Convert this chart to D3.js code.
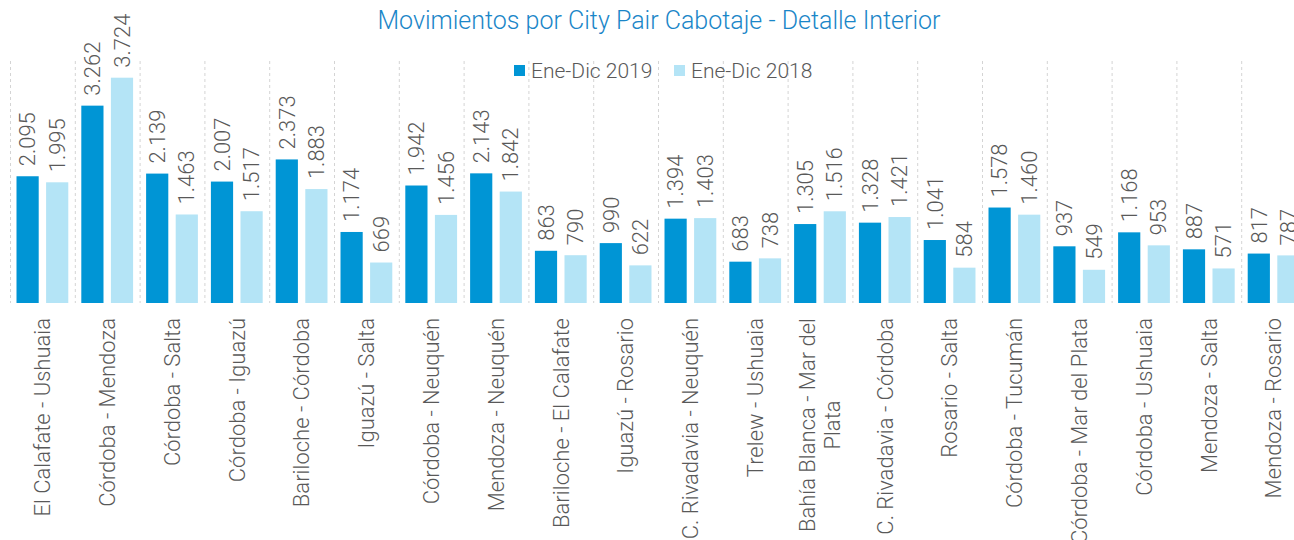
<!DOCTYPE html>
<html>
  <head>
    <meta charset="utf-8">
    <title>Movimientos por City Pair Cabotaje</title>
    <script src="https://d3js.org/d3.v7.min.js"></script>
    <style>
      body { margin: 0; background: #fff; }
      svg { font-family: Roboto, "Noto Sans", sans-serif; }
    </style>
  </head>
  <body>
    <svg id="chart" width="1294" height="540"></svg>
    <script>
      // chart data
      var categories = [
        "El Calafate - Ushuaia", "Córdoba - Mendoza", "Córdoba - Salta",
        "Córdoba - Iguazú", "Bariloche - Córdoba", "Iguazú - Salta",
        "Córdoba - Neuquén", "Mendoza - Neuquén", "Bariloche - El Calafate",
        "Iguazú - Rosario", "C. Rivadavia - Neuquén", "Trelew - Ushuaia",
        "Bahía Blanca - Mar del Plata", "C. Rivadavia - Córdoba", "Rosario - Salta",
        "Córdoba - Tucumán", "Córdoba - Mar del Plata", "Córdoba - Ushuaia",
        "Mendoza - Salta", "Mendoza - Rosario"
      ];
      var seriesNames = ["Ene-Dic 2019", "Ene-Dic 2018"];
      var values2019 = [2095, 3262, 2139, 2007, 2373, 1174, 1942, 2143, 863, 990,
                        1394, 683, 1305, 1328, 1041, 1578, 937, 1168, 887, 817];
      var values2018 = [1995, 3724, 1463, 1517, 1883, 669, 1456, 1842, 790, 622,
                        1403, 738, 1516, 1421, 584, 1460, 549, 953, 571, 787];
      var colors = ["#0095d5", "#b4e4f6"];

      var svg = d3.select("#chart");
      var textColor = "#595959";

      var rows = categories.map(function (c, i) {
        return { name: c, values: [values2019[i], values2018[i]] };
      });

      // the chart runs a little past the right edge, like the original
      var x = d3.scaleBand().domain(categories).range([10, 10 + 64.8 * categories.length]);
      var x1 = d3.scaleBand().domain([0, 1]).range([0, x.step()])
        .paddingInner(0.25).paddingOuter(0.22);
      var y = d3.scaleLinear().domain([0, 4000]).range([303, 61]);

      // dashed separators between categories
      svg.append("g")
        .selectAll("line")
        .data(categories)
        .enter()
        .append("line")
        .attr("x1", function (d) { return x(d) + 0.5; })
        .attr("x2", function (d) { return x(d) + 0.5; })
        .attr("y1", y(4000))
        .attr("y2", y(0))
        .attr("stroke", "#d4d4d4")
        .attr("stroke-width", 1)
        .attr("stroke-dasharray", "3,3");

      var groups = svg.append("g")
        .selectAll("g")
        .data(rows)
        .enter()
        .append("g")
        .attr("transform", function (d) { return "translate(" + x(d.name) + ",0)"; });

      groups.selectAll("rect")
        .data(function (d) { return d.values; })
        .enter()
        .append("rect")
        .attr("x", function (d, i) { return x1(i); })
        .attr("y", function (d) { return y(d); })
        .attr("width", x1.bandwidth())
        .attr("height", function (d) { return y(0) - y(d); })
        .attr("fill", function (d, i) { return colors[i]; });

      // value labels, rotated, with a dot as thousands separator
      var fmt = d3.formatLocale({ decimal: ",", thousands: ".", grouping: [3], currency: ["$", ""] }).format(",d");
      groups.selectAll("text")
        .data(function (d) { return d.values; })
        .enter()
        .append("text")
        .attr("transform", function (d, i) {
          return "translate(" + (x1(i) + x1.bandwidth() / 2) + "," + (y(d) - 10) + ") rotate(-90)";
        })
        .attr("dy", "0.35em")
        .attr("text-anchor", "start")
        .attr("fill", textColor)
        .attr("font-size", "22px")
        .attr("font-weight", 300)
        .text(function (d) { return fmt(d); });

      // category labels, rotated, wrapped when too long
      var catLabels = svg.append("g")
        .selectAll("text")
        .data(categories)
        .enter()
        .append("text")
        .attr("fill", textColor)
        .attr("font-size", "22px")
        .attr("font-weight", 300)
        .text(function (d) { return d; });

      catLabels.each(function (d) {
        var t = d3.select(this);
        var cx = x(d) + x.bandwidth() / 2;
        var top = 318;
        if (this.getComputedTextLength() <= 245) {
          t.attr("transform", "translate(" + cx + "," + top + ") rotate(-90)")
            .attr("text-anchor", "end")
            .attr("dy", "0.35em");
          return;
        }
        // greedy word wrap
        var words = d.split(" "), lines = [], line = [];
        t.text(null);
        var probe = t.append("tspan");
        words.forEach(function (w) {
          line.push(w);
          probe.text(line.join(" "));
          if (probe.node().getComputedTextLength() > 230 && line.length > 1) {
            line.pop();
            lines.push(line.join(" "));
            line = [w];
          }
        });
        lines.push(line.join(" "));
        probe.text(lines[0]);
        var maxW = probe.node().getComputedTextLength();
        probe.remove();
        var lh = 25;
        t.attr("transform", "translate(" + (cx - (lines.length - 1) * lh / 2) + "," + (top + maxW / 2) + ") rotate(-90)")
          .attr("text-anchor", "middle");
        lines.forEach(function (l, i) {
          t.append("tspan")
            .attr("x", 0)
            .attr("y", i * lh)
            .attr("dy", "0.35em")
            .text(l);
        });
      });

      // title
      svg.append("text")
        .attr("x", 659)
        .attr("y", 29)
        .attr("text-anchor", "middle")
        .attr("fill", "#1a86c8")
        .attr("font-size", "25px")
        .attr("font-weight", 300)
        .text("Movimientos por City Pair Cabotaje - Detalle Interior");

      // legend
      var legendX = [514, 674];
      var legend = svg.append("g")
        .selectAll("g")
        .data(seriesNames)
        .enter()
        .append("g")
        .attr("transform", function (d, i) { return "translate(" + legendX[i] + ",65)"; });
      legend.append("rect")
        .attr("width", 11)
        .attr("height", 11)
        .attr("fill", function (d, i) { return colors[i]; });
      legend.append("text")
        .attr("x", 17)
        .attr("y", 5.5)
        .attr("dy", "0.35em")
        .attr("fill", textColor)
        .attr("font-size", "21px")
        .attr("font-weight", 300)
        .text(function (d) { return d; });
    </script>
  </body>
</html>
